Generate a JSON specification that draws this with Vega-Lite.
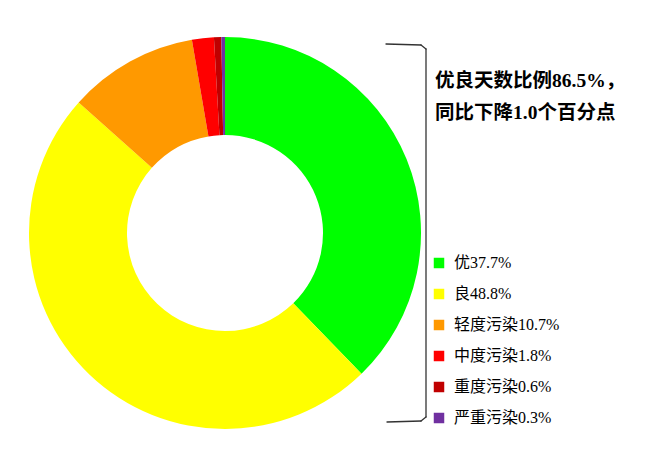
{
  "$schema": "https://vega.github.io/schema/vega-lite/v6.json",
  "width": 659,
  "height": 464,
  "autosize": "none",
  "padding": 0,
  "background": "white",
  "layer": [
    {
      "data": {
        "values": [
          {"idx": 1, "label": "优37.7%", "pct": 37.7},
          {"idx": 2, "label": "良48.8%", "pct": 48.8},
          {"idx": 3, "label": "轻度污染10.7%", "pct": 10.7},
          {"idx": 4, "label": "中度污染1.8%", "pct": 1.8},
          {"idx": 5, "label": "重度污染0.6%", "pct": 0.6},
          {"idx": 6, "label": "严重污染0.3%", "pct": 0.3}
        ]
      },
      "mark": {"type": "arc", "outerRadius": 196, "innerRadius": 98},
      "encoding": {
        "x": {"datum": 225, "type": "quantitative", "scale": {"domain": [0, 659], "nice": false, "zero": false}, "axis": null},
        "y": {"datum": 233, "type": "quantitative", "scale": {"domain": [0, 464], "nice": false, "zero": false, "reverse": true}, "axis": null},
        "theta": {"field": "pct", "type": "quantitative", "stack": true},
        "order": {"field": "idx"},
        "color": {
          "field": "label",
          "type": "nominal",
          "sort": null,
          "scale": {
            "domain": ["优37.7%", "良48.8%", "轻度污染10.7%", "中度污染1.8%", "重度污染0.6%", "严重污染0.3%"],
            "range": ["#00ff00", "#ffff00", "#ff9900", "#ff0000", "#c00000", "#7030a0"]
          },
          "legend": {
            "title": null,
            "orient": "none",
            "legendX": 431,
            "legendY": 255,
            "padding": 0,
            "symbolType": "square",
            "symbolSize": 110,
            "symbolStrokeWidth": 0,
            "symbolOffset": 0,
            "labelFont": "Liberation Serif, Noto Sans CJK SC",
            "labelFontSize": 16,
            "labelColor": "#000000",
            "labelOffset": 7,
            "labelLimit": 300,
            "rowPadding": 15
          }
        }
      }
    },
    {
      "data": {"values": [{}]},
      "mark": {"type": "text", "font": "Liberation Serif, Noto Sans CJK SC", "fontWeight": "bold", "fontSize": 19.5, "align": "left", "baseline": "alphabetic", "lineHeight": 32, "color": "#000000"},
      "encoding": {
        "x": {"datum": 435, "type": "quantitative"},
        "y": {"datum": 87, "type": "quantitative"},
        "text": {"value": ["优良天数比例86.5%，", "同比下降1.0个百分点"]}
      }
    },
    {
      "data": {"values": [{}]},
      "layer": [
        {
          "mark": {"type": "rule", "color": "#333333", "strokeWidth": 1.3, "strokeCap": "round"},
          "encoding": {
            "x": {"datum": 386, "type": "quantitative"}, "x2": {"datum": 421},
            "y": {"datum": 44, "type": "quantitative"}, "y2": {"datum": 45}
          }
        },
        {
          "mark": {"type": "rule", "color": "#333333", "strokeWidth": 1.3, "strokeCap": "round"},
          "encoding": {
            "x": {"datum": 421, "type": "quantitative"}, "x2": {"datum": 426},
            "y": {"datum": 45, "type": "quantitative"}, "y2": {"datum": 49}
          }
        },
        {
          "mark": {"type": "rule", "color": "#333333", "strokeWidth": 1.3, "strokeCap": "round"},
          "encoding": {
            "x": {"datum": 426, "type": "quantitative"}, "x2": {"datum": 426},
            "y": {"datum": 49, "type": "quantitative"}, "y2": {"datum": 417}
          }
        },
        {
          "mark": {"type": "rule", "color": "#333333", "strokeWidth": 1.3, "strokeCap": "round"},
          "encoding": {
            "x": {"datum": 426, "type": "quantitative"}, "x2": {"datum": 421},
            "y": {"datum": 417, "type": "quantitative"}, "y2": {"datum": 421}
          }
        },
        {
          "mark": {"type": "rule", "color": "#333333", "strokeWidth": 1.3, "strokeCap": "round"},
          "encoding": {
            "x": {"datum": 421, "type": "quantitative"}, "x2": {"datum": 387},
            "y": {"datum": 421, "type": "quantitative"}, "y2": {"datum": 422}
          }
        }
      ]
    }
  ],
  "config": {
    "view": {"stroke": null}
  }
}
